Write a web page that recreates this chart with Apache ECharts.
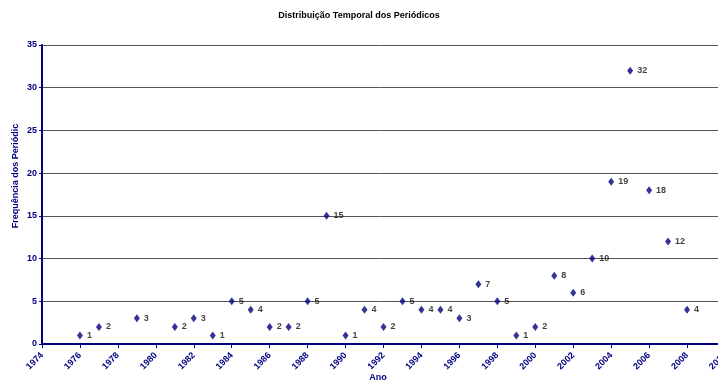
<!DOCTYPE html>
<html>
<head>
<meta charset="utf-8">
<script src="https://cdn.jsdelivr.net/npm/echarts@6/dist/echarts.min.js"></script>
<style>
  html, body { margin: 0; padding: 0; background: #fff; }
  #chart { width: 718px; height: 385px; }
</style>
</head>
<body>
<div id="chart"></div>
<script>
// Publication years and number of journals per year
const years = [1976, 1977, 1979, 1981, 1982, 1983, 1984, 1985, 1986, 1987, 1988, 1989, 1990,
               1991, 1992, 1993, 1994, 1995, 1996, 1997, 1998, 1999, 2000, 2001, 2002, 2003,
               2004, 2005, 2006, 2007, 2008];
const counts = [1, 2, 3, 2, 3, 1, 5, 4, 2, 2, 5, 15, 1,
                4, 2, 5, 4, 4, 3, 7, 5, 1, 2, 8, 6, 10,
                19, 32, 18, 12, 4];

const navy = '#000080';
const font = 'Arial, "Liberation Sans", sans-serif';

const chart = echarts.init(document.getElementById('chart'), null, { renderer: 'canvas' });

chart.setOption({
  animation: false,
  backgroundColor: '#ffffff',
  title: {
    text: 'Distribuição Temporal dos Periódicos',
    left: 'center',
    top: 6,
    textStyle: {
      fontFamily: '"Liberation Sans Narrow", "Arial Narrow", ' + font,
      fontSize: 9,
      fontWeight: 'bold',
      color: '#000'
    }
  },
  grid: { left: 42, top: 45, right: -7, bottom: 41, containLabel: false, outerBoundsMode: 'none' },
  xAxis: {
    type: 'value',
    min: 1974,
    max: 2010,
    interval: 2,
    axisLine: { show: true, lineStyle: { color: navy, width: 2 } },
    axisTick: { show: true, length: 4, lineStyle: { color: navy, width: 1 } },
    axisLabel: {
      rotate: 45,
      color: navy,
      fontSize: 9,
      fontWeight: 'bold',
      fontFamily: font,
      margin: 10,
      showMaxLabel: true,
      formatter: v => String(v)
    },
    splitLine: { show: false }
  },
  yAxis: {
    type: 'value',
    min: 0,
    max: 35,
    interval: 5,
    axisLine: { show: true, lineStyle: { color: navy, width: 2 } },
    axisTick: { show: true, length: 3, lineStyle: { color: navy } },
    axisLabel: { color: navy, fontSize: 9, fontWeight: 'bold', fontFamily: font, margin: 5 },
    splitLine: { show: true, lineStyle: { color: '#555', width: 1 } }
  },
  graphic: [{
    // y-axis title
    type: 'text',
    x: 16,
    y: 176,
    rotation: Math.PI / 2,
    style: {
      text: 'Frequência dos Periódic',
      fill: navy,
      font: 'bold 9px ' + font,
      textAlign: 'center',
      textVerticalAlign: 'middle'
    }
  }, {
    // x-axis title
    type: 'text',
    x: 378,
    y: 378,
    style: {
      text: 'Ano',
      fill: navy,
      font: 'bold 9px ' + font,
      textAlign: 'center',
      textVerticalAlign: 'middle'
    }
  }],
  series: [{
    type: 'scatter',
    symbol: 'diamond',
    symbolSize: [6, 8],
    itemStyle: { color: navy },
    data: years.map((y, i) => [y, counts[i]]),
    label: {
      show: true,
      position: 'right',
      distance: 4,
      color: '#111',
      fontSize: 9,
      fontWeight: 'bold',
      fontFamily: font,
      formatter: p => p.value[1]
    }
  }]
});
</script>
</body>
</html>
